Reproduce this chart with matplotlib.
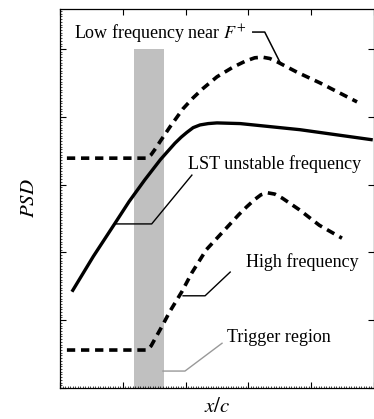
import numpy as np
import matplotlib
matplotlib.use('Agg')
import matplotlib.pyplot as plt
from matplotlib.ticker import MultipleLocator

plt.rcParams['font.family'] = ['Liberation Serif', 'DejaVu Serif']
plt.rcParams['mathtext.fontset'] = 'stix'

# --- data (arbitrary units) ---
low_x = [0.11, 1.385, 1.45, 1.52, 1.59, 1.75, 1.96, 2.12, 2.28, 2.50, 2.75, 2.95, 3.10, 3.22,
         3.34, 3.46, 3.77, 4.14, 4.73]
low_y = [3.39, 3.39, 3.44, 3.53, 3.63, 3.85, 4.12, 4.28, 4.42, 4.59, 4.73, 4.82, 4.87, 4.88,
         4.86, 4.81, 4.66, 4.50, 4.22]

lst_x = [0.19, 0.53, 0.876, 1.10, 1.35, 1.60, 1.83, 1.93, 2.02, 2.12, 2.23, 2.36, 2.50, 2.87,
         3.82, 4.98]
lst_y = [1.42, 1.94, 2.43, 2.75, 3.07, 3.37, 3.61, 3.70, 3.77, 3.84, 3.88, 3.90, 3.91, 3.90,
         3.81, 3.66]

high_x = [0.11, 1.385, 1.45, 1.51, 1.63, 1.75, 1.94, 2.10, 2.33, 2.65, 2.85, 2.97, 3.10, 3.20,
          3.30, 3.42, 3.54, 3.81, 4.13, 4.49]
high_y = [0.56, 0.56, 0.62, 0.72, 0.92, 1.13, 1.42, 1.70, 2.04, 2.36, 2.56, 2.67, 2.78, 2.85,
          2.88, 2.86, 2.80, 2.63, 2.40, 2.21]

trigger = (1.18, 1.65, 5.0)

fig = plt.figure(figsize=(3.74, 4.19), dpi=100)
ax = fig.add_axes([60 / 374, 31 / 419, 314 / 374, 379 / 419])

ax.bar((trigger[0] + trigger[1]) / 2, trigger[2], width=trigger[1] - trigger[0],
       color='#c0c0c0', zorder=1)

ax.plot(low_x, low_y, color='black', lw=2.6, linestyle=(0, (2.3, 1.6)), zorder=3)
ax.plot(high_x, high_y, color='black', lw=2.6, linestyle=(0, (2.3, 1.6)), zorder=3)
ax.plot(lst_x, lst_y, color='black', lw=2.4, zorder=3, solid_capstyle='butt')

fs = 13
# --- annotations with leader lines ---
ax.text(0.22, 5.24, 'Low frequency near $\\mathit{F}^{+}$', fontsize=fs, va='center', ha='left')
ax.plot([3.07, 3.26, 3.50], [5.25, 5.25, 4.81], color='black', lw=1.1, zorder=4)

ax.text(2.04, 3.30, 'LST unstable frequency', fontsize=fs, va='center', ha='left')
ax.plot([0.88, 1.46, 2.10], [2.42, 2.42, 3.14], color='black', lw=1.0, zorder=4)

ax.text(2.96, 1.86, 'High frequency', fontsize=fs, va='center', ha='left')
ax.plot([1.96, 2.31, 2.71], [1.36, 1.36, 1.71], color='black', lw=1.0, zorder=4)

ax.text(2.66, 0.74, 'Trigger region', fontsize=fs, va='center', ha='left')
ax.plot([1.64, 1.99, 2.58], [0.25, 0.25, 0.66], color='#999999', lw=1.0, zorder=4)

ax.set_xlim(0, 5)
ax.set_ylim(0, 5.59)
ax.xaxis.set_major_locator(MultipleLocator(1))
ax.yaxis.set_major_locator(MultipleLocator(1))
ax.xaxis.set_minor_locator(MultipleLocator(0.04))
ax.yaxis.set_minor_locator(MultipleLocator(0.04))
ax.tick_params(which='major', direction='in', length=4.5, width=0.8,
               top=True, right=True, labelbottom=False, labelleft=False)
ax.tick_params(which='minor', direction='in', length=1.5, width=0.5,
               top=False, right=False)
for s in ax.spines.values():
    s.set_linewidth(0.9)

ax.set_ylabel('$\\mathit{PSD}$', fontsize=15, labelpad=12)
ax.set_xlabel('$\\mathit{x/c}$', fontsize=15, labelpad=4)

fig.savefig('out.png', dpi=100)
